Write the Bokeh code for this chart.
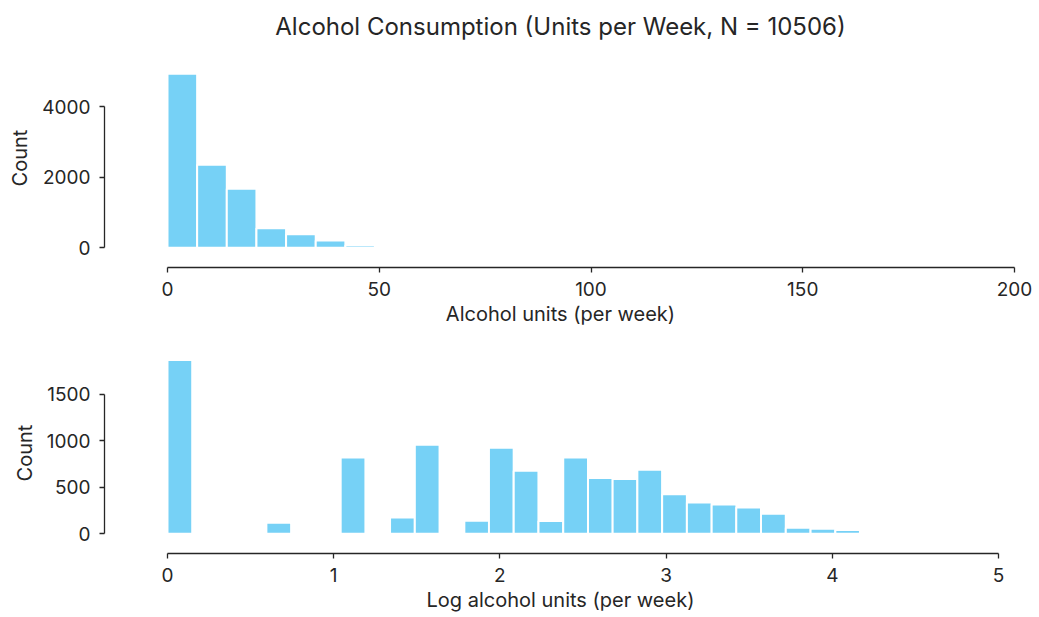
from bokeh.plotting import figure
from bokeh.layouts import column
from bokeh.models import Range1d, FixedTicker
from bokeh.embed import file_html
from bokeh.resources import INLINE

# ---------------- data ----------------
title_text = "Alcohol Consumption (Units per Week, N = 10506)"

# top histogram: alcohol units per week (bin width 7)
units_bin_left = [0, 7, 14, 21, 28, 35, 42, 49]
units_bin_width = 7
units_counts = [4929, 2351, 1671, 555, 385, 207, 74, 37]
units_xticks = [0, 50, 100, 150, 200]
units_yticks = [0, 2000, 4000]

# bottom histogram: log alcohol units per week (bin width ~0.1488)
log_bin_left = [0.000, 0.595, 1.042, 1.339, 1.488, 1.786, 1.934, 2.083, 2.232,
                2.381, 2.530, 2.678, 2.827, 2.976, 3.125, 3.274, 3.422, 3.571,
                3.720, 3.869, 4.018, 4.166]
log_bin_width = 0.1488
log_counts = [1870, 118, 821, 175, 958, 140, 926, 678, 137,
              821, 600, 589, 689, 427, 337, 315, 283, 215,
              65, 54, 40, 21]
log_xticks = [0, 1, 2, 3, 4, 5]
log_yticks = [0, 500, 1000, 1500]

BAR = "#76D1F6"
INK = "#262626"
FONT = "Inter"


def style(p, xticks, yticks, xlabel):
    p.grid.visible = False
    p.outline_line_color = None
    p.background_fill_color = "white"
    p.border_fill_color = "white"
    p.xaxis.ticker = FixedTicker(ticks=xticks)
    p.yaxis.ticker = FixedTicker(ticks=yticks)
    p.xaxis.bounds = (xticks[0], xticks[-1])
    p.yaxis.bounds = (yticks[0], yticks[-1])
    for ax in (p.xaxis, p.yaxis):
        ax.axis_line_color = INK
        ax.axis_line_width = 1.3
        ax.major_tick_line_color = INK
        ax.major_tick_line_width = 1.3
        ax.major_tick_out = 5
        ax.major_tick_in = 0
        ax.minor_tick_line_color = None
        ax.major_label_text_font = FONT
        ax.major_label_text_font_size = "19px"
        ax.major_label_text_color = INK
        ax.axis_label_text_font = FONT
        ax.axis_label_text_font_size = "20px"
        ax.axis_label_text_font_style = "normal"
        ax.axis_label_text_color = INK
    p.xaxis.axis_label = xlabel
    p.yaxis.axis_label = "Count"
    p.xaxis.major_label_standoff = 9
    p.xaxis.axis_label_standoff = 3
    p.yaxis.major_label_standoff = 9
    p.yaxis.axis_label_standoff = 7


W = 1039

# ---------------- top figure ----------------
p1 = figure(width=W, height=352, output_backend="svg", toolbar_location=None,
            x_range=Range1d(-14.876, 200.47), y_range=Range1d(-558, 5646),
            min_border_left=104, min_border_right=23, min_border_top=55,
            min_border_bottom=78, margin=(-7, 0, 0, 0))
p1.quad(left=units_bin_left,
        right=[l + units_bin_width for l in units_bin_left],
        bottom=0, top=units_counts,
        fill_color=BAR, line_color="white", line_width=2)
style(p1, units_xticks, units_yticks, "Alcohol units (per week)")
p1.title.text = title_text
p1.title.align = "center"
p1.title.vertical_align = "top"
p1.title.text_font = FONT
p1.title.text_font_size = "24px"
p1.title.text_font_style = "normal"
p1.title.text_color = INK
p1.title.standoff = 12

# ---------------- bottom figure ----------------
p2 = figure(width=W, height=272, output_backend="svg", toolbar_location=None,
            x_range=Range1d(-0.379, 5.108), y_range=Range1d(-212, 1952),
            min_border_left=104, min_border_right=23, min_border_top=7,
            min_border_bottom=64)
p2.quad(left=log_bin_left,
        right=[l + log_bin_width for l in log_bin_left],
        bottom=0, top=log_counts,
        fill_color=BAR, line_color="white", line_width=2)
style(p2, log_xticks, log_yticks, "Log alcohol units (per week)")

layout = column(p1, p2, spacing=0)
open("out.html", "w").write(file_html(layout, INLINE))
